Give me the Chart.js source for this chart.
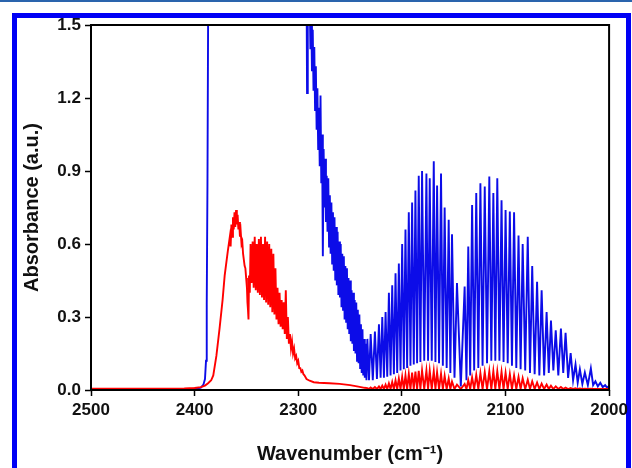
<!DOCTYPE html>
<html>
<head>
<meta charset="utf-8">
<script src="https://cdn.jsdelivr.net/npm/chart.js@4"></script>
<style>
  html, body { margin: 0; padding: 0; background: #fff; }
  body { width: 632px; height: 468px; position: relative; overflow: hidden; }
  .topline { position: absolute; left: 0; top: 0; width: 632px; height: 2px; background: #2a64ad; }
  .frame { position: absolute; left: 12px; top: 13px; right: 1px; bottom: -10px; border: 5px solid #0000f5; }
  #chart { position: absolute; left: 0; top: 0; }
</style>
</head>
<body>
<div class="topline"></div>
<div class="frame"></div>
<canvas id="chart" width="632" height="468"></canvas>
<script>
// axis ranges
const xMin = 2000, xMax = 2500, xStep = 100;
const yMin = 0, yMax = 1.5, yStep = 0.3;

// blue spectrum: baseline, steep rise (off scale) and re-entry
const blueRiseWn  = [2500, 2450, 2420, 2405, 2398, 2394, 2391.5, 2390, 2389, 2388.3, 2387.6, 2387, 2386, 2300, 2292.2, 2291.5, 2290.8];
const blueRiseAbs = [0.0, 0.0, 0.001, 0.003, 0.006, 0.01, 0.022, 0.045, 0.12, 0.35, 0.85, 1.5, 1.9, 1.9, 1.9, 1.22, 1.9];

// blue noisy descending band (upper / lower edge)
const blueBandWn = [2289, 2287.5, 2286, 2284.5, 2283, 2281.5, 2280, 2278.5, 2277, 2275.5, 2274, 2272.5, 2271, 2269.5, 2268, 2266.5, 2265, 2263.5, 2262, 2260.5, 2259, 2257.5, 2256, 2254.5, 2253, 2251.5, 2250, 2248.5, 2247, 2245.5, 2244, 2242.5, 2241, 2239.5, 2238, 2236.5, 2235];
const blueBandHi = [1.64, 1.55, 1.48, 1.41, 1.33, 1.24, 1.16, 1.21, 1.05, 0.99, 0.95, 0.88, 0.87, 0.80, 0.77, 0.73, 0.71, 0.67, 0.65, 0.61, 0.60, 0.56, 0.55, 0.51, 0.50, 0.46, 0.45, 0.41, 0.40, 0.37, 0.36, 0.33, 0.31, 0.27, 0.25, 0.21, 0.19];
const blueBandLo = [1.40, 1.31, 1.23, 1.15, 1.07, 0.99, 0.92, 0.85, 0.55, 0.75, 0.69, 0.65, 0.59, 0.56, 0.52, 0.49, 0.45, 0.43, 0.39, 0.38, 0.34, 0.33, 0.29, 0.28, 0.25, 0.23, 0.20, 0.19, 0.16, 0.15, 0.12, 0.11, 0.09, 0.07, 0.06, 0.05, 0.04];

// CO rotational lines, R branch
const rWn       = [2233.3, 2230.1, 2226.0, 2222.1, 2218.9, 2215.7, 2212.5, 2209.3, 2206.1, 2202.9, 2199.7, 2196.5, 2193.3, 2190.1, 2186.9, 2183.7, 2180.5, 2176.3, 2173.1, 2169.2, 2166.0, 2162.2, 2158.7, 2154.8, 2151.6, 2146.8];
const rBlue     = [0.21, 0.23, 0.24, 0.27, 0.30, 0.32, 0.40, 0.43, 0.48, 0.52, 0.60, 0.66, 0.73, 0.77, 0.82, 0.88, 0.90, 0.89, 0.87, 0.94, 0.84, 0.89, 0.75, 0.70, 0.64, 0.44];
const rBlueLow  = [0.04, 0.04, 0.045, 0.05, 0.05, 0.055, 0.06, 0.065, 0.07, 0.08, 0.085, 0.09, 0.10, 0.105, 0.11, 0.115, 0.12, 0.12, 0.12, 0.115, 0.11, 0.10, 0.09, 0.07, 0.05, 0.015];
const rRed      = [0.008, 0.01, 0.012, 0.015, 0.018, 0.022, 0.027, 0.033, 0.04, 0.047, 0.054, 0.06, 0.066, 0.072, 0.076, 0.079, 0.08, 0.08, 0.079, 0.077, 0.073, 0.067, 0.058, 0.047, 0.035, 0.022];

// CO rotational lines, P branch
const pWn       = [2139.4, 2135.9, 2132.2, 2128.2, 2124.2, 2120.0, 2115.6, 2111.7, 2107.9, 2103.8, 2099.9, 2095.8, 2091.7, 2087.4, 2083.4, 2078.5, 2074.2, 2069.5, 2065.1, 2060.3, 2056.1, 2051.5, 2046.5, 2042.0, 2037.1, 2032.4, 2028.2, 2023.4, 2017.6, 2013.2, 2008.5, 2003.8, 2000.2];
const pBlue     = [0.425, 0.59, 0.76, 0.81, 0.85, 0.836, 0.877, 0.81, 0.87, 0.78, 0.74, 0.733, 0.73, 0.635, 0.60, 0.63, 0.51, 0.445, 0.41, 0.32, 0.285, 0.245, 0.253, 0.235, 0.152, 0.105, 0.085, 0.072, 0.089, 0.036, 0.03, 0.02, 0.016];
const pBlueLow  = [0.04, 0.06, 0.08, 0.09, 0.10, 0.11, 0.12, 0.12, 0.12, 0.115, 0.11, 0.10, 0.09, 0.085, 0.08, 0.07, 0.065, 0.06, 0.06, 0.07, 0.08, 0.06, 0.07, 0.05, 0.04, 0.03, 0.025, 0.02, 0.02, 0.015, 0.012, 0.01, 0.01];
const pRed      = [0.025, 0.04, 0.052, 0.062, 0.069, 0.074, 0.077, 0.078, 0.077, 0.075, 0.071, 0.066, 0.06, 0.054, 0.048, 0.042, 0.036, 0.031, 0.026, 0.022, 0.018, 0.015, 0.012, 0.01, 0.008, 0.007, 0.006, 0.005, 0.005, 0.004, 0.004, 0.004, 0.004];
const redLineFloor = 0.004;

// red spectrum: baseline and rise
const redRiseWn  = [2500, 2450, 2410, 2400, 2394, 2390, 2387, 2384, 2382, 2379, 2376, 2373, 2371, 2368];
const redRiseAbs = [0.005, 0.005, 0.006, 0.008, 0.012, 0.018, 0.028, 0.04, 0.06, 0.14, 0.25, 0.37, 0.47, 0.57];

// red peak and noisy shoulder (upper / lower edge)
const redBandWn = [2366, 2364.5, 2363, 2361.5, 2360, 2358.5, 2357, 2355.5, 2354, 2352.5, 2351, 2349.5, 2348.5, 2347.5, 2346, 2344, 2342, 2340, 2338, 2336, 2334, 2332, 2330, 2328, 2326, 2324, 2322, 2320, 2318, 2316, 2314, 2312, 2310, 2308, 2306, 2304, 2302, 2300, 2298, 2296];
const redBandHi = [0.63, 0.68, 0.71, 0.73, 0.74, 0.72, 0.69, 0.65, 0.61, 0.56, 0.50, 0.42, 0.33, 0.47, 0.60, 0.61, 0.63, 0.60, 0.62, 0.63, 0.60, 0.63, 0.61, 0.60, 0.58, 0.56, 0.50, 0.42, 0.40, 0.37, 0.36, 0.41, 0.30, 0.23, 0.20, 0.17, 0.14, 0.12, 0.09, 0.08];
const redBandLo = [0.59, 0.63, 0.66, 0.67, 0.68, 0.66, 0.63, 0.60, 0.56, 0.51, 0.46, 0.36, 0.29, 0.40, 0.44, 0.42, 0.41, 0.40, 0.39, 0.38, 0.37, 0.36, 0.35, 0.34, 0.32, 0.31, 0.29, 0.27, 0.26, 0.25, 0.23, 0.21, 0.19, 0.17, 0.15, 0.13, 0.11, 0.09, 0.075, 0.065];

// red tail before the CO bands
const redTailWn  = [2294, 2292, 2289, 2285, 2280, 2270, 2260, 2250, 2242, 2236];
const redTailAbs = [0.06, 0.045, 0.038, 0.032, 0.03, 0.028, 0.025, 0.02, 0.014, 0.009];

function pairs(wn, abs) {
    return wn.map((x, i) => ({ x, y: abs[i] }));
}

// upper/lower edges interleaved, lower point halfway to the next sample
function band(wn, hi, lo, nextWn) {
    const out = [];
    wn.forEach((x, i) => {
        const nx = i < wn.length - 1 ? wn[i + 1] : nextWn;
        out.push({ x, y: hi[i] });
        out.push({ x: (x + nx) / 2, y: lo[i] });
    });
    return out;
}

const blueData = [
    ...pairs(blueRiseWn, blueRiseAbs),
    ...band(blueBandWn, blueBandHi, blueBandLo, rWn[0]),
    ...band(rWn, rBlue, rBlueLow, pWn[0]),
    ...band(pWn, pBlue, pBlueLow, 1996)
];

const redData = [
    ...pairs(redRiseWn, redRiseAbs),
    ...band(redBandWn, redBandHi, redBandLo, redTailWn[0]),
    ...pairs(redTailWn, redTailAbs),
    ...band(rWn, rRed, rWn.map(() => redLineFloor), pWn[0]),
    ...band(pWn, pRed, pWn.map(() => redLineFloor), 1996)
];

const frameBox = {
    id: 'frameBox',
    afterDatasetsDraw(chart) {
        const { ctx, chartArea: a } = chart;
        ctx.save();
        ctx.strokeStyle = '#000';
        ctx.lineWidth = 2;
        ctx.strokeRect(a.left, a.top, a.right - a.left, a.bottom - a.top);
        ctx.restore();
    }
};

const tickFont = { family: "'Liberation Sans', Arial, sans-serif", size: 17, weight: 'bold' };
const titleFont = { family: "'Liberation Sans', Arial, sans-serif", size: 20, weight: 'bold' };

new Chart(document.getElementById('chart').getContext('2d'), {
    type: 'line',
    data: {
        datasets: [
            { label: 'red', data: redData, borderColor: '#ff0000', borderWidth: 1.9, pointRadius: 0, tension: 0 },
            { label: 'blue', data: blueData, borderColor: '#0c0ce8', borderWidth: 1.9, pointRadius: 0, tension: 0 }
        ]
    },
    options: {
        responsive: false,
        animation: false,
        events: [],
        layout: { padding: { left: 12, top: 25, right: 20, bottom: 0 } },
        plugins: { legend: { display: false }, tooltip: { enabled: false } },
        scales: {
            x: {
                type: 'linear',
                reverse: true,
                min: xMin,
                max: xMax,
                border: { display: false },
                grid: { drawOnChartArea: false, drawTicks: true, tickLength: 6, tickWidth: 1.5, tickColor: '#000' },
                ticks: { stepSize: xStep, color: '#111', font: tickFont, padding: 4, maxRotation: 0, callback: v => String(v) },
                title: { display: true, text: 'Wavenumber (cm\u207B\u00B9)', color: '#111', font: titleFont, padding: { top: 0, bottom: 2 } },
                afterFit: s => { s.height = 78; }
            },
            y: {
                min: yMin,
                max: yMax,
                border: { display: false },
                grid: { drawOnChartArea: false, drawTicks: true, tickLength: 6, tickWidth: 1.5, tickColor: '#000' },
                ticks: { stepSize: yStep, color: '#111', font: tickFont, padding: 4, callback: v => v.toFixed(1) },
                title: { display: true, text: 'Absorbance (a.u.)', color: '#111', font: titleFont, padding: { top: 8, bottom: 0 } },
                afterFit: s => { s.width = 79; }
            }
        }
    },
    plugins: [frameBox]
});
</script>
</body>
</html>
